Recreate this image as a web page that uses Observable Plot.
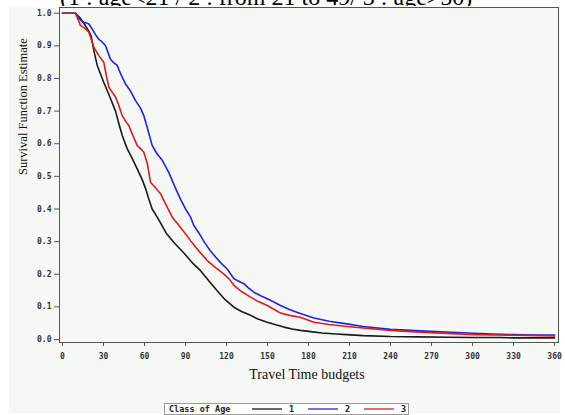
<!DOCTYPE html>
<html>
<head>
<meta charset="utf-8">
<script src="https://cdn.jsdelivr.net/npm/d3@7"></script>
<script src="https://cdn.jsdelivr.net/npm/@observablehq/plot@0.6"></script>
<style>
  html, body { margin: 0; padding: 0; background: #fff; overflow: hidden; }
  #wrap { position: relative; width: 565px; height: 415px; }
  #tint { position: absolute; left: 9px; top: 7px; width: 551px; height: 406px; background: #f5f8f5; z-index: 0; }
  #title { position: relative; height: 6px; overflow: hidden; z-index: 1; }
  #title span { position: absolute; left: 60px; bottom: -3px; font-family: "Liberation Serif", serif; font-size: 24px; line-height: 24px; white-space: nowrap; color: #000; }
  #plot { position: relative; z-index: 1; }
  #plot svg { background: transparent !important; display: block; }
  #legend { position: absolute; left: 164px; top: 403px; width: 243px; height: 10px; border: 1px solid #9a9a9a; background: #fff; z-index: 2; }
</style>
</head>
<body>
<div id="wrap">
  <div id="tint"></div>
  <div id="title"><span></span></div>
  <div id="plot"></div>
  <div id="legend"></div>
</div>
<script>
const titleText = "(1 : age<21 / 2 : from 21 to 49/ 3 : age>50)";
const xLabel = "Travel Time budgets";
const yLabel = "Survival Function Estimate";
const legendTitle = "Class of Age";
const classes = ["1", "2", "3"];
const colors = ["#1a1a1a", "#2323e0", "#e11b1b"];
const xTicks = [0, 30, 60, 90, 120, 150, 180, 210, 240, 270, 300, 330, 360];
const yTicks = [0, 0.1, 0.2, 0.3, 0.4, 0.5, 0.6, 0.7, 0.8, 0.9, 1.0];

const time1 = [0,9.5,13,17,19.3,21,22.9,25.4,30,34,38.8,41,43.7,47.3,51,55,58.3,61,63.2,65.6,69.3,76,82,88.8,95,101,107,113,119,125.4,131,137.6,143,149.8,156,162,168,174,181.5,190,200,208,220,240,260,282,300,320,330,345,360];
const surv1 = [1,1,0.985,0.96,0.945,0.93,0.886,0.84,0.79,0.75,0.70,0.665,0.625,0.585,0.555,0.52,0.49,0.46,0.43,0.40,0.375,0.325,0.295,0.265,0.235,0.211,0.18,0.15,0.122,0.099,0.086,0.074,0.063,0.053,0.045,0.038,0.032,0.028,0.024,0.02,0.017,0.015,0.012,0.009,0.008,0.007,0.006,0.006,0.005,0.005,0.005];

const time2 = [0,9.5,13.2,16,19.3,22,24,26.6,29,31.5,35,37,40,43,46,50,53.4,57,59.5,62,65.6,69,73,78,82,86.3,90,93.7,96,100,104,108,112,116,120.5,125.4,130,132.7,136,140,145,149.8,155,159.5,166,174,184,195,208,220,240,255,269,285,301,315,330,345,360];
const surv2 = [1,1,0.978,0.972,0.967,0.95,0.935,0.92,0.912,0.9,0.86,0.85,0.84,0.81,0.784,0.76,0.732,0.71,0.686,0.65,0.595,0.57,0.549,0.51,0.47,0.43,0.40,0.375,0.35,0.325,0.297,0.273,0.253,0.234,0.216,0.186,0.176,0.171,0.158,0.145,0.134,0.125,0.114,0.104,0.092,0.080,0.066,0.056,0.048,0.040,0.031,0.028,0.025,0.022,0.019,0.017,0.015,0.014,0.014];

const time3 = [0,9.5,13.2,16,19.3,21,22.9,26.6,30.2,32,33.9,36,38.8,41,43.7,46,48.5,51,54.6,57,59.5,62,64.4,68,71.7,76,80.3,87,93.7,100,105.9,112,118,122,125.4,131,137.6,143,149.8,155,159.5,166,174,184,195,208,220,240,255,269,285,301,330,360];
const surv3 = [1,1,0.962,0.955,0.942,0.92,0.896,0.87,0.85,0.81,0.773,0.76,0.743,0.72,0.686,0.67,0.656,0.63,0.595,0.585,0.574,0.54,0.482,0.465,0.447,0.41,0.375,0.34,0.303,0.27,0.242,0.22,0.201,0.185,0.166,0.147,0.130,0.117,0.104,0.092,0.081,0.074,0.068,0.053,0.046,0.040,0.035,0.028,0.024,0.021,0.018,0.015,0.013,0.011];

const series = [[time1, surv1], [time2, surv2], [time3, surv3]];
const rows = series.flatMap(([t, s], i) => t.map((x, j) => ({time: x, surv: s[j], cls: classes[i]})));

document.querySelector("#title span").textContent = titleText;

const chart = Plot.plot({
  width: 565,
  height: 391,
  marginLeft: 59,
  marginRight: 7,
  marginTop: 1,
  marginBottom: 55,
  style: {background: "transparent", fontFamily: "DejaVu Sans Mono, monospace", fontSize: "8px", fontWeight: "bold", color: "#333"},
  x: {domain: [-2.2, 362.9], ticks: xTicks, label: null},
  y: {domain: [-0.0092, 1.0175], ticks: yTicks, label: null},
  color: {domain: classes, range: colors},
  marks: [
    Plot.axisX({ticks: xTicks, tickSize: 4, tickPadding: 7, tickFormat: d => String(d), stroke: "#555", label: null}),
    Plot.axisY({ticks: yTicks, tickSize: 5, tickPadding: 3, tickFormat: d => d.toFixed(1), stroke: "#555", label: null}),
    Plot.frame({stroke: "#555", strokeWidth: 1}),
    Plot.line(rows, {x: "time", y: "surv", z: "cls", stroke: "cls", strokeWidth: 1.6, curve: "linear"}),
    Plot.text([yLabel], {frameAnchor: "left", dx: -37, rotate: -90, fontFamily: "Liberation Serif, serif", fontSize: 12.5, fontWeight: "normal", fill: "#111"}),
    Plot.text([xLabel], {frameAnchor: "bottom", dy: 36, dx: -2, fontFamily: "Liberation Serif, serif", fontSize: 14, fontWeight: "normal", fill: "#111"})
  ]
});
document.getElementById("plot").appendChild(chart);

// legend built from the same arrays
const lw = 243, lh = 10;
const leg = d3.select("#legend").append("svg").attr("width", lw).attr("height", lh).style("display", "block");
leg.append("text").attr("x", 4).attr("y", 8).text(legendTitle)
  .attr("font-family", "DejaVu Sans Mono, monospace").attr("font-size", 8.5).attr("font-weight", "bold").attr("fill", "#222");
classes.forEach((c, i) => {
  const x0 = 87 + i * 56;
  leg.append("line").attr("x1", x0).attr("x2", x0 + 30).attr("y1", 5).attr("y2", 5).attr("stroke", colors[i]).attr("stroke-width", 1.3);
  leg.append("text").attr("x", x0 + 37).attr("y", 8).text(c)
    .attr("font-family", "DejaVu Sans Mono, monospace").attr("font-size", 8.5).attr("font-weight", "bold").attr("fill", "#222");
});
</script>
</body>
</html>
